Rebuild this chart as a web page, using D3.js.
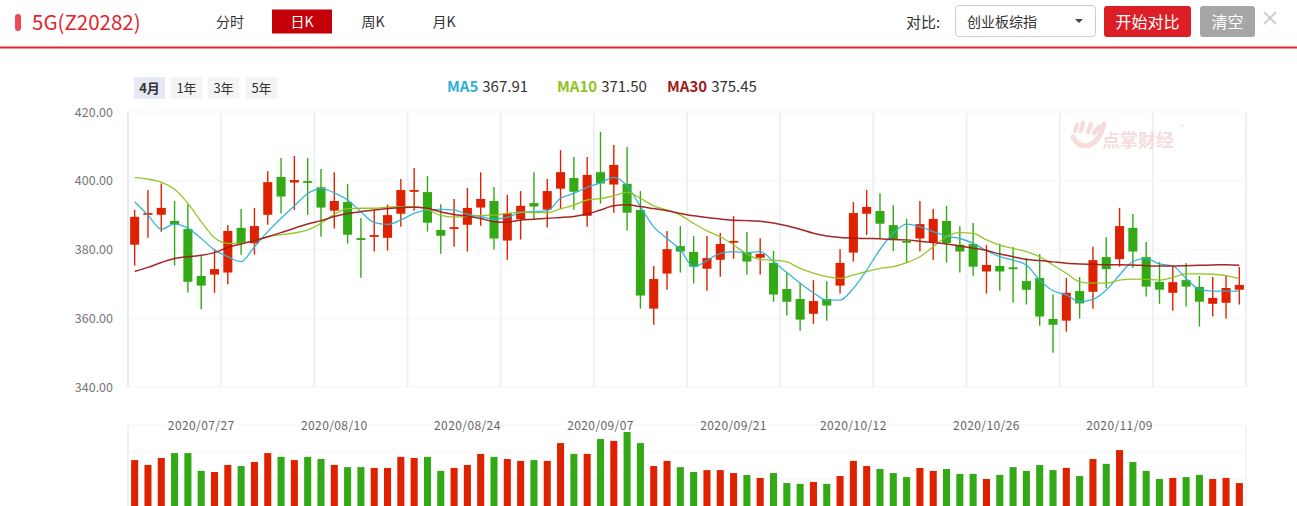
<!DOCTYPE html>
<html>
<head>
<meta charset="utf-8">
<script src="https://cdn.jsdelivr.net/npm/d3@7"></script>
<style>
body{margin:0;background:#fff;font-family:"Noto Sans CJK SC","Noto Sans",sans-serif}
</style>
</head>
<body>
<svg id="svg1" width="1297" height="506"></svg>
<script>
var dates = ["2020-07-20","2020-07-21","2020-07-22","2020-07-23","2020-07-24","2020-07-27","2020-07-28","2020-07-29","2020-07-30","2020-07-31",
"2020-08-03","2020-08-04","2020-08-05","2020-08-06","2020-08-07","2020-08-10","2020-08-11","2020-08-12","2020-08-13","2020-08-14",
"2020-08-17","2020-08-18","2020-08-19","2020-08-20","2020-08-21","2020-08-24","2020-08-25","2020-08-26","2020-08-27","2020-08-28","2020-08-31",
"2020-09-01","2020-09-02","2020-09-03","2020-09-04","2020-09-07","2020-09-08","2020-09-09","2020-09-10","2020-09-11","2020-09-14",
"2020-09-15","2020-09-16","2020-09-17","2020-09-18","2020-09-21","2020-09-22","2020-09-23","2020-09-24","2020-09-25","2020-09-28","2020-09-29","2020-09-30",
"2020-10-09","2020-10-12","2020-10-13","2020-10-14","2020-10-15","2020-10-16","2020-10-19","2020-10-20","2020-10-21","2020-10-22","2020-10-23",
"2020-10-26","2020-10-27","2020-10-28","2020-10-29","2020-10-30","2020-11-02","2020-11-03","2020-11-04","2020-11-05","2020-11-06",
"2020-11-09","2020-11-10","2020-11-11","2020-11-12","2020-11-13","2020-11-16","2020-11-17","2020-11-18","2020-11-19","2020-11-20"]

var opens = [381.4,390.3,390.1,388.3,386.0,372.3,372.7,373.3,386.3,381.8,390.1,401.1,399.5,399.9,398.1,391.3,393.8,383.3,383.7,383.4,
390.4,396.9,396.7,385.7,386.3,387.2,392.2,394.1,382.6,388.8,393.5,391.6,397.7,400.8,389.8,402.5,398.9,399.1,391.5,362.8,
373.0,381.0,379.3,374.4,377.0,382.0,379.3,377.6,376.1,368.5,365.6,361.3,365.6,369.5,379.1,390.4,391.2,387.1,382.5,383.2,
382.0,388.3,381.4,381.6,373.6,375.2,374.8,370.8,371.7,359.8,359.3,367.9,367.7,377.8,377.2,386.3,377.8,370.6,367.4,371.1,
369.1,364.2,364.5,368.3]
var closes = [389.5,390.6,392.1,387.3,370.6,369.5,374.3,385.4,381.8,386.8,399.6,395.4,400.2,399.5,392.2,394.1,384.3,382.9,384.2,390.0,
397.3,397.3,387.8,384.0,386.5,392.1,394.7,383.2,390.5,392.7,392.5,397.0,402.5,396.8,401.7,399.2,404.6,390.7,366.6,371.4,
380.1,379.4,375.0,377.5,381.6,382.5,376.5,378.7,366.9,364.8,359.6,365.0,363.7,376.1,390.6,392.4,387.5,383.0,382.3,387.4,
388.9,381.9,379.4,375.0,375.5,373.6,374.6,368.3,360.5,358.1,367.4,364.3,376.9,374.3,386.8,379.4,369.2,368.3,370.5,369.2,
364.8,365.9,368.8,369.7]
var highs = [391.5,397.3,399.2,394.1,393.2,378.1,380.1,387.1,391.8,392.1,402.8,406.6,407.2,406.6,403.4,402.5,399.1,389.2,391.5,393.1,
400.5,403.7,401.4,393.2,394.7,397.9,402.5,398.2,395.9,397.0,402.5,400.5,408.9,406.9,406.9,414.2,410.4,409.8,397.0,375.2,
385.4,386.8,383.9,383.9,384.8,389.7,385.1,383.3,379.6,373.2,370.3,371.1,370.8,380.1,393.8,397.3,396.4,392.9,388.9,394.1,
391.8,392.7,386.8,387.7,381.3,381.7,380.7,377.5,378.7,366.9,371.7,372.0,380.8,383.6,392.1,390.3,382.2,376.4,375.0,376.1,
372.3,372.0,372.6,374.9]
var lows = [375.3,383.4,385.2,375.3,367.4,362.6,367.4,369.9,378.5,378.5,387.2,390.5,391.5,390.1,383.7,386.1,381.7,371.8,379.4,379.7,
386.6,391.3,385.2,378.8,380.8,379.4,386.9,380.0,377.0,382.9,388.9,386.4,391.8,391.6,386.6,393.3,390.7,385.5,362.8,358.1,
368.3,373.3,370.1,368.0,372.1,377.3,372.7,372.7,364.8,360.8,356.4,358.4,359.3,367.2,376.5,384.2,383.1,379.6,376.2,379.4,
377.0,376.2,373.3,372.4,367.2,368.0,364.5,364.0,357.8,350.0,356.1,359.9,362.8,368.7,375.0,374.7,366.3,364.2,362.2,363.4,
357.6,360.5,359.9,364.0]
var volumes = [170,152,178,196,196,130,126,152,148,163,196,182,170,182,174,152,144,144,141,141,
182,178,182,130,141,152,193,182,174,167,170,167,233,193,193,248,241,274,233,148,
167,144,126,133,133,122,115,104,122,85,82,89,82,111,167,148,137,122,107,141,
130,137,119,119,100,115,144,130,152,133,141,111,174,156,207,163,130,100,104,107,
115,100,104,85]
var ma5 = [393.9,390.0,385.9,387.4,386.2,383.2,379.9,377.9,376.5,380.8,385.2,389.1,392.7,396.3,397.7,396.5,394.4,391.0,387.8,387.3,
388.6,390.5,391.5,391.7,391.5,390.3,389.6,388.8,389.4,390.7,391.0,391.3,394.9,396.3,398.1,399.4,401.0,398.5,392.5,386.6,
383.2,379.9,375.0,376.8,378.9,379.4,379.1,379.4,376.5,373.3,370.2,367.4,365.3,365.3,368.7,374.0,380.0,384.7,387.4,386.6,
385.2,383.9,383.2,381.8,379.7,377.9,376.9,375.5,371.1,368.0,366.8,364.8,365.5,368.2,372.6,376.5,377.4,375.8,375.2,371.6,
368.4,367.9,367.9,367.91]
var ma10 = [400.9,400.5,399.6,397.5,393.4,388.1,383.4,381.8,381.8,382.6,383.7,384.3,384.8,385.7,387.6,390.2,391.9,392.0,392.0,392.3,
392.5,392.5,391.7,389.9,389.4,389.6,389.9,390.0,390.5,390.9,390.7,390.7,391.8,392.9,394.4,394.8,395.6,396.7,394.9,392.7,
391.5,390.0,387.6,385.4,383.7,381.3,378.7,377.1,376.9,376.4,374.5,373.1,372.1,371.6,372.6,373.6,374.5,375.0,376.2,377.9,
380.8,383.7,384.9,384.7,382.8,381.3,380.3,379.4,377.9,375.5,373.1,370.6,370.2,370.2,371.1,371.4,371.3,371.1,371.9,372.9,
372.9,372.8,372.4,371.50]
var ma30 = [373.6,374.8,376.2,377.4,377.9,378.3,379.1,380.6,381.6,382.6,383.7,384.9,386.2,387.4,388.4,389.6,390.5,391.0,391.5,391.9,
392.2,392.3,392.0,390.9,390.2,389.7,389.0,388.1,387.9,388.6,388.8,389.1,389.3,389.6,390.3,391.5,392.7,393.0,392.5,391.9,
391.3,390.5,389.8,389.3,388.9,388.5,388.4,388.2,387.7,386.9,385.9,384.7,383.9,383.5,383.3,383.2,383.1,382.9,382.8,382.4,
382.0,381.6,381.0,380.4,379.7,378.7,377.9,377.1,376.8,376.4,376.0,375.8,375.7,375.6,375.6,375.5,375.3,375.2,375.2,375.3,
375.4,375.5,375.6,375.45]

var priceTicks = [340,360,380,400,420]
var dateTicks = ["2020-07-27","2020-08-10","2020-08-24","2020-09-07","2020-09-21","2020-10-12","2020-10-26","2020-11-09"]
var tabs = ["分时","日K","周K","月K"]
var ranges = ["4月","1年","3年","5年"]
var maNames = ["MA5","MA10","MA30"]
var maColors = ["#2fb0d8","#8fc31f","#a11a1a"]

var RED = "#de2200", GREEN = "#33a915"
var svg = d3.select("#svg1")
var fontCJK = '"Noto Sans CJK SC","Noto Sans",sans-serif'

// ---- header ----
svg.append("rect").attr("x",15).attr("y",14).attr("width",6).attr("height",17).attr("rx",3).attr("fill","#ef4a4f")
svg.append("text").attr("x",32).attr("y",29.5).attr("font-size",20.5).attr("fill","#e0262e").text("5G(Z20282)")

var tabX = [230,302,373,444]
svg.append("rect").attr("x",272).attr("y",9.5).attr("width",60).attr("height",24).attr("fill","#c40008")
svg.selectAll(".tab").data(tabs).enter().append("text")
    .attr("x",function(d,i){return tabX[i]})
    .attr("y",27)
    .attr("text-anchor","middle")
    .attr("font-size",14)
    .attr("fill",function(d,i){return i==1?"#fff":"#333"})
    .text(function(d){return d})

svg.append("rect").attr("x",0).attr("y",46.5).attr("width",1297).attr("height",2).attr("fill","#e0262e")

svg.append("text").attr("x",906).attr("y",28).attr("font-size",15).attr("fill","#333").text("对比:")
svg.append("rect").attr("x",955.5).attr("y",5.5).attr("width",140).attr("height",31).attr("rx",3)
    .attr("fill","#fff").attr("stroke","#ccc")
svg.append("text").attr("x",967).attr("y",27).attr("font-size",14).attr("fill","#333").text("创业板综指")
svg.append("path").attr("d","M1075,19 L1083,19 L1079,23 Z").attr("fill","#444")
svg.append("rect").attr("x",1104).attr("y",6).attr("width",87).attr("height",31).attr("rx",3).attr("fill","#dc1f26")
svg.append("text").attr("x",1147.5).attr("y",28).attr("text-anchor","middle").attr("font-size",16).attr("fill","#fff").text("开始对比")
svg.append("rect").attr("x",1200).attr("y",6).attr("width",55).attr("height",31).attr("rx",3).attr("fill","#a6a6a6")
svg.append("text").attr("x",1227.5).attr("y",28).attr("text-anchor","middle").attr("font-size",16).attr("fill","#fff").text("清空")
svg.append("path").attr("d","M1264,12 L1276,24 M1276,12 L1264,24").attr("stroke","#cfcfcf").attr("stroke-width",2.2)

// range buttons
var rangeX = [134,171,208,246]
svg.selectAll(".rg").data(ranges).enter().append("rect")
    .attr("x",function(d,i){return rangeX[i]}).attr("y",77).attr("width",31).attr("height",22)
    .attr("fill",function(d,i){return i==0?"#e4e9f4":"#f4f4f4"})
svg.selectAll(".rgt").data(ranges).enter().append("text")
    .attr("x",function(d,i){return rangeX[i]+15.5}).attr("y",92.5)
    .attr("text-anchor","middle").attr("font-size",13)
    .attr("font-weight",function(d,i){return i==0?"bold":"normal"})
    .attr("fill","#333")
    .text(function(d){return d})

// MA legend
var maLast = [ma5[ma5.length-1],ma10[ma10.length-1],ma30[ma30.length-1]]
var legX = [447,557,667]
var leg = svg.selectAll(".leg").data(maNames).enter().append("text")
    .attr("x",function(d,i){return legX[i]}).attr("y",91.5).attr("font-size",15)
leg.append("tspan").attr("font-weight","bold").attr("fill",function(d,i){return maColors[i]}).text(function(d){return d})
leg.append("tspan").attr("fill","#333").attr("dx",4).text(function(d,i){return maLast[i].toFixed(2)})

// ---- scales ----
var L = 128, R = 1246
var x = d3.scaleBand().domain(dates).range([L,R]).paddingInner(0.32).paddingOuter(0.16)
var xv = d3.scaleBand().domain(dates).range([L,R]).paddingInner(0.47).paddingOuter(0.235)
var y = d3.scaleLinear().domain([340,420]).range([387,112])
var yv = d3.scaleLinear().domain([0,300]).range([506,425])
var gx = d3.scaleLinear().domain([0,12]).range([L,R])
function cx(d){return x(d)+x.bandwidth()/2}

// grid
svg.selectAll(".hg").data(priceTicks).enter().append("line")
    .attr("x1",L).attr("x2",R).attr("y1",function(d){return y(d)}).attr("y2",function(d){return y(d)})
    .attr("stroke","#f4f5f7").attr("stroke-width",1)
svg.selectAll(".vg").data(d3.range(13)).enter().append("line")
    .attr("x1",function(d){return gx(d)}).attr("x2",function(d){return gx(d)})
    .attr("y1",y(420)).attr("y2",y(340))
    .attr("stroke",function(d){return d==0?"#d6ddea":"#edf1f6"}).attr("stroke-width",function(d){return d==0?1.2:2})

// watermark
var wm = svg.append("g").attr("opacity",0.85)
wm.append("text").attr("x",1102).attr("y",147).attr("font-size",18).attr("font-weight","bold").attr("fill","#f6d6d9").text("点掌财经")
wm.append("text").attr("x",1180).attr("y",130).attr("font-size",8).attr("fill","#f6d6d9").text("®")
wm.selectAll("line").data([[1075,131,1077,125],[1081,131,1083,123],[1088,132,1091,124],[1094,133,1099,127]]).enter().append("line")
    .attr("x1",function(d){return d[0]}).attr("y1",function(d){return d[1]})
    .attr("x2",function(d){return d[2]}).attr("y2",function(d){return d[3]})
    .attr("stroke","#f6d6d9").attr("stroke-width",4.5).attr("stroke-linecap","round")
wm.append("path").attr("d","M1073,137 Q1080,150 1092,144 Q1100,139 1104,124").attr("fill","none")
    .attr("stroke","#f6d6d9").attr("stroke-width",5).attr("stroke-linecap","round")

// y axis
var yAxis = svg.append("g").attr("transform","translate("+L+",0)")
    .call(d3.axisLeft(y).tickValues(priceTicks).tickSize(0).tickPadding(15).tickFormat(d3.format(".2f")))
yAxis.select(".domain").remove()
yAxis.selectAll("text").attr("font-size",12.5).attr("fill","#777").attr("font-family",fontCJK)

// candles
var idx = d3.range(dates.length)
function col(i){return closes[i]>=opens[i]?RED:GREEN}
svg.selectAll(".wick").data(idx).enter().append("line")
    .attr("x1",function(i){return cx(dates[i])}).attr("x2",function(i){return cx(dates[i])})
    .attr("y1",function(i){return y(highs[i])}).attr("y2",function(i){return y(lows[i])})
    .attr("stroke",col).attr("stroke-width",1.4)
svg.selectAll(".body").data(idx).enter().append("rect")
    .attr("x",function(i){return x(dates[i])})
    .attr("width",x.bandwidth())
    .attr("y",function(i){return y(Math.max(opens[i],closes[i]))})
    .attr("height",function(i){return Math.max(1.8,Math.abs(y(opens[i])-y(closes[i])))})
    .attr("fill",col)

// MA lines
var maSeries = [ma5,ma10,ma30]
var line = d3.line().x(function(d,i){return cx(dates[i])}).y(function(d){return y(d)}).curve(d3.curveMonotoneX)
svg.selectAll(".ma").data(maSeries).enter().append("path")
    .attr("d",function(d){return line(d)})
    .attr("fill","none")
    .attr("stroke",function(d,i){return maColors[i]})
    .attr("stroke-width",function(d,i){return i==2?1.5:1.3})
    .attr("opacity",0.95)

// ---- volume panel ----
svg.selectAll(".vhg").data([300,200,100]).enter().append("line")
    .attr("x1",L).attr("x2",R).attr("y1",function(d){return yv(d)}).attr("y2",function(d){return yv(d)})
    .attr("stroke","#f4f5f7")
svg.selectAll(".vvg").data([L,R]).enter().append("line")
    .attr("x1",function(d){return d}).attr("x2",function(d){return d})
    .attr("y1",yv(300)).attr("y2",yv(0))
    .attr("stroke",function(d){return d==L?"#e3e8f0":"#f0f0f0"}).attr("stroke-width",1.2)

svg.selectAll(".vol").data(idx).enter().append("rect")
    .attr("x",function(i){return xv(dates[i])})
    .attr("width",xv.bandwidth())
    .attr("y",function(i){return yv(volumes[i])})
    .attr("height",function(i){return yv(0)-yv(volumes[i])})
    .attr("fill",col)

var xAxis = svg.append("g").attr("transform","translate(0,420)")
    .call(d3.axisBottom(x).tickValues(dateTicks).tickSize(0).tickPadding(1)
        .tickFormat(function(d){return d.replace(/-/g,"/")}))
xAxis.select(".domain").remove()
xAxis.selectAll("text").attr("font-size",12).attr("fill","#666").attr("font-family",fontCJK)
    .attr("letter-spacing",0.4)
</script>
</body>
</html>
